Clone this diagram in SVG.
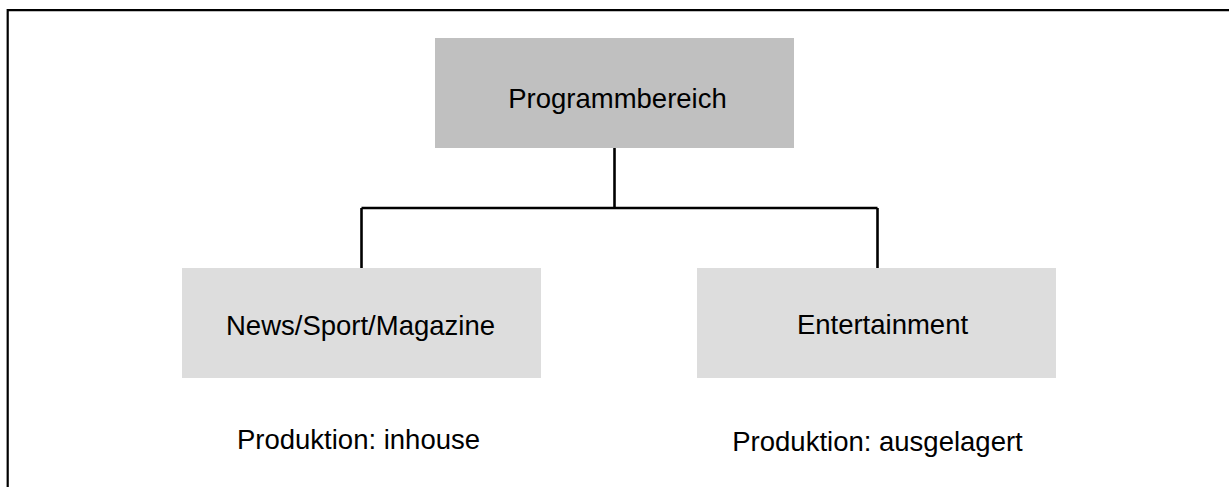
<svg xmlns="http://www.w3.org/2000/svg" width="1229" height="487" viewBox="0 0 1229 487">
<style>
.lbl{font-family:"Liberation Sans",Arial,sans-serif;font-size:27.5px;fill:#000;text-anchor:middle}
.con{stroke:#000;stroke-width:2.6;fill:none}
.frame{stroke:#000;stroke-width:2.2;fill:none}
</style>
<rect width="1229" height="487" fill="#fff"/>
<path class="frame" d="M7.7,487 V10.2 H1229"/>
<g id="connectors">
<path class="con" d="M614.5,148 V208"/>
<path class="con" d="M361.5,208 H877.5"/>
<path class="con" d="M361.5,208 V268"/>
<path class="con" d="M877.5,208 V268"/>
</g>
<g id="node-programmbereich">
<rect x="435" y="38" width="359" height="110" fill="#C0C0C0"/>
<text class="lbl" x="617.5" y="108">Programmbereich</text>
</g>
<g id="node-news">
<rect x="182" y="268" width="359" height="110" fill="#DDDDDD"/>
<text class="lbl" x="360.5" y="335">News/Sport/Magazine</text>
</g>
<g id="node-entertainment">
<rect x="697" y="268" width="359" height="110" fill="#DDDDDD"/>
<text class="lbl" x="882.5" y="334">Entertainment</text>
</g>
<g id="label-inhouse">
<text class="lbl" x="358.5" y="449">Produktion: inhouse</text>
</g>
<g id="label-ausgelagert">
<text class="lbl" x="877.5" y="451">Produktion: ausgelagert</text>
</g>
</svg>
